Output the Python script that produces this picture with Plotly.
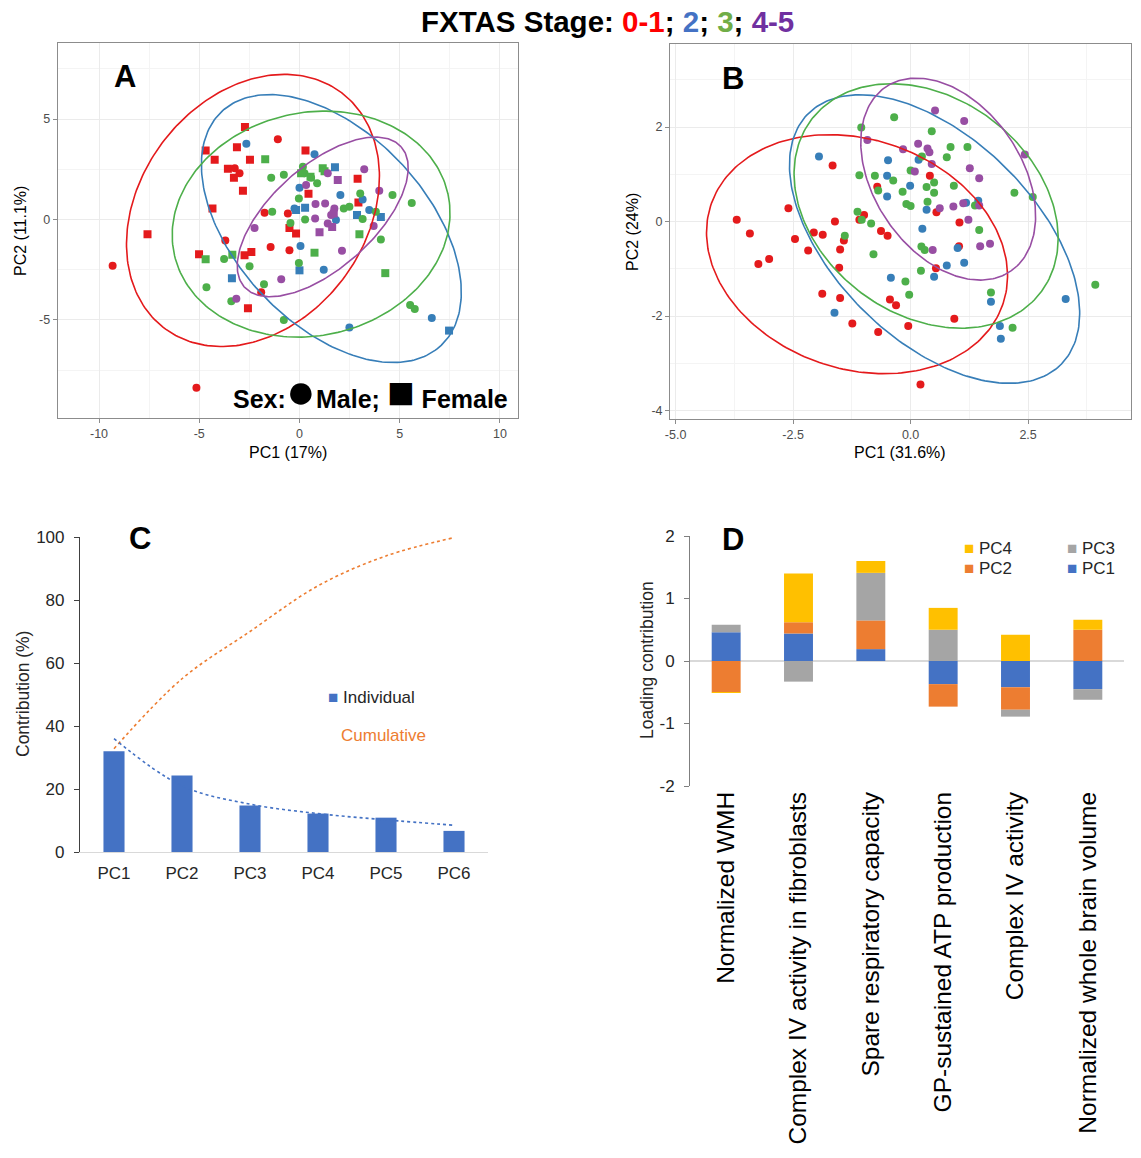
import numpy as np
import plotly.graph_objects as go

W, H = 1141, 1158
FONT = "Liberation Sans, Arial, sans-serif"


def fx(p):
    return p / W


def fy(p):
    return 1 - p / H


# ---------------- Panel A data (PC1 17%, PC2 11.1%) ----------------
A_s01_x = [-9.32, -5.14, -1.08, -3.23, -2.99, -1.74, -0.58, -3.70, -1.44, -0.50, -1.91,
           -7.58, -5.01, -4.68, -4.23, -4.34, -3.12, -2.72, -2.47, -3.57, -3.27, -2.82,
           -2.74, -2.40, -2.57, 0.30, 0.45, -0.50, -0.17, 2.90, 2.94]
A_s01_y = [-2.30, -8.37, 4.00, 2.55, 2.30, 0.33, 0.30, -1.05, -1.37, -1.53, -3.62,
           -0.73, -1.73, 3.43, 2.97, 0.55, 3.60, 4.60, 2.97, 2.52, 2.08, 1.43,
           -1.78, -1.62, -4.42, 3.43, 1.28, -0.42, -0.70, 2.03, 0.85]
A_s01_sex = ["M"] * 11 + ["F"] * 20

A_s2_x = [-2.65, 0.75, 0.00, 2.04, -0.25, 3.48, 0.05, 1.21, 2.49, 6.60, 1.82, 3.15,
          1.77, 0.28, -0.17, 2.87, 4.06, -3.37, 0.00, 7.46]
A_s2_y = [3.77, 3.25, 1.58, 1.22, 0.55, 0.47, -1.32, -2.50, -5.37, -4.90, -0.03, 1.00,
          2.60, 0.58, 0.47, 0.22, 0.13, -2.92, -2.53, -5.53]
A_s2_sex = ["M"] * 12 + ["F"] * 8

A_s3_x = [-1.41, -0.78, 0.17, 0.25, 0.58, 0.88, -0.03, -1.36, 0.28, 3.03, 2.21, 2.49,
          3.15, 4.64, 5.60, 4.06, 3.81, -0.45, -3.76, -2.49, -4.64, -3.40, -1.77, -0.03,
          -0.78, 5.52, 5.75,
          -1.71, 1.16, 1.25, 0.55, 0.08, 2.99, 0.75, 4.28, -4.68, -3.35]
A_s3_y = [2.08, 2.23, 2.63, 2.30, 2.08, 1.80, 1.05, 0.38, 0.00, 1.30, 0.55, 0.63,
          0.02, 1.22, 0.82, -1.00, 0.38, -0.17, -1.97, -2.33, -3.37, -4.07, -3.22, -2.17,
          -5.00, -4.25, -4.45,
          3.00, 2.55, 2.40, 2.13, 2.30, -0.73, -1.65, -2.67, -1.98, -1.75]
A_s3_sex = ["M"] * 27 + ["F"] * 10

A_s45_x = [3.23, 0.33, 3.98, 0.80, 1.28, 1.74, 1.58, 0.78, 1.41, 3.70, -2.24, 2.12,
           -0.91, -3.15, 1.41, 1.91, 1.71, 1.00, 1.63]
A_s45_y = [2.50, 1.72, 1.43, 0.77, 0.80, 0.55, 0.22, 0.05, -0.20, -0.32, -0.42, -1.55,
           -2.97, -3.95, 2.30, 1.97, 0.30, -0.63, -0.37]
A_s45_sex = ["M"] * 15 + ["F"] * 4

# ellipse parameters: centre x, centre y, semi-axis a, semi-axis b, angle (deg)
A_ell_cx = [-2.32, 1.59, 0.58, 1.16]
A_ell_cy = [0.45, -0.45, -0.23, 0.13]
A_ell_a = [7.34, 7.99, 6.99, 5.24]
A_ell_b = [5.64, 4.76, 5.55, 2.55]
A_ell_ang = [53.0, -46.7, 12.5, 41.7]

A_xticks = [-10, -5, 0, 5, 10]
A_xticklabels = ["-10", "-5", "0", "5", "10"]
A_yticks = [-5, 0, 5]
A_yticklabels = ["-5", "0", "5"]

# ---------------- Panel B data (PC1 31.6%, PC2 24%) ----------------
B_s01_x = [-3.70, -3.42, -3.24, -3.01, -2.60, -2.46, -2.18, -2.06, -1.87, -1.66, -1.61,
           -1.42, -1.50, -1.52, -1.88, -1.50, -1.24, -0.69, -1.09, -0.99, -0.71, -0.63,
           -0.49, -0.44, -0.31, -0.05, 0.21, 0.41, 0.55, 0.54, 1.04, 1.03, 0.93]
B_s01_y = [0.04, -0.25, -0.90, -0.79, 0.28, -0.37, -0.61, -0.23, -0.28, 1.19, 0.00,
           -0.40, -0.59, -0.98, -1.53, -1.62, -2.16, -2.34, 0.04, 0.14, 0.74, -0.20,
           -0.30, -1.65, -1.77, -2.21, -3.45, 0.97, 0.20, -0.99, -0.02, -0.52, -2.06]

B_s2_x = [-1.95, -1.62, -0.48, -0.50, -0.50, -0.42, -0.01, 0.17, 0.34, 0.25, 0.50,
          0.77, 1.00, 1.14, 1.18, 1.44, 1.71, 1.90, 1.92, 3.30]
B_s2_y = [1.38, -1.93, 1.30, 0.97, 0.53, -1.19, 0.76, 1.31, 0.25, -0.15, -1.17,
          -0.93, -0.56, -0.87, 0.40, 0.44, -1.70, -2.21, -2.48, -1.64]

B_s3_x = [-0.35, -1.05, -1.09, -0.76, -0.37, -0.69, -1.13, -1.04, -0.84, -1.40, -0.79,
          -0.17, -0.09, 0.00, 0.00, 0.24, 0.45, 0.34, 0.36, 0.50, 0.50, 0.77, 0.85,
          0.92, 1.21, 1.37, 1.46, 0.23, 0.30, 0.22, -0.11, -0.03, 1.71, 2.21, 2.60,
          2.17, 3.93]
B_s3_y = [2.21, 1.99, 0.98, 0.97, 0.87, 0.66, 0.21, 0.04, -0.04, -0.30, -0.69,
          0.63, 0.37, 0.33, 1.08, 1.38, 1.91, 0.73, 0.42, 0.83, 0.61, 1.36, 1.58,
          0.76, 1.58, 0.34, -0.18, -0.53, -0.60, -1.04, -1.27, -1.55, -1.50, 0.61, 0.52,
          -2.25, -1.34]

B_s45_x = [0.52, 1.14, -0.92, -0.16, 0.16, 0.36, 0.40, 0.45, 0.09, 1.26, 1.46, 2.43,
           0.62, 0.91, 1.12, 1.46, 1.23, 0.47, 1.48, 1.69]
B_s45_y = [2.35, 2.13, 1.73, 1.53, 1.65, 1.55, 1.47, 1.22, 1.06, 1.13, 0.92, 1.42,
           0.28, 0.32, 0.39, 0.34, 0.04, -0.60, -0.52, -0.47]

B_ell_cx = [-1.14, 0.51, 0.33, 0.80]
B_ell_cy = [-0.69, -0.37, 0.33, 0.90]
B_ell_a = [3.28, 3.78, 3.05, 2.36]
B_ell_b = [2.43, 2.14, 2.30, 1.57]
B_ell_ang = [-18.7, -44.4, -36.3, -55.5]

B_xticks = [-5.0, -2.5, 0.0, 2.5]
B_xticklabels = ["-5.0", "-2.5", "0.0", "2.5"]
B_yticks = [-4, -2, 0, 2]
B_yticklabels = ["-4", "-2", "0", "2"]

# ---------------- Panel C data ----------------
C_components = ["PC1", "PC2", "PC3", "PC4", "PC5", "PC6"]
C_individual = [32.0, 24.3, 14.8, 12.2, 10.9, 6.7]
C_individual_trend = [36.0, 21.0, 15.2, 12.2, 10.2, 8.5]
C_cumulative_trend = [32.8, 55.0, 70.0, 84.5, 94.0, 99.8]

# ---------------- Panel D data ----------------
D_variables = ["Normalized WMH", "Complex IV activity in fibroblasts",
               "Spare respiratory capacity", "GP-sustained ATP production",
               "Complex IV activity", "Normalized whole brain volume"]
D_PC1 = [0.46, 0.44, 0.19, -0.37, -0.42, -0.45]
D_PC2 = [-0.50, 0.18, 0.46, -0.36, -0.36, 0.50]
D_PC3 = [0.12, -0.33, 0.76, 0.50, -0.11, -0.17]
D_PC4 = [-0.01, 0.78, 0.19, 0.35, 0.42, 0.16]
D_yticks = [-2, -1, 0, 1, 2]
D_yticklabels = ["-2", "-1", "0", "1", "2"]

STAGE_COLORS = ["#E41A1C", "#377EB8", "#4DAF4A", "#984EA3"]
STAGE_NAMES = ["0-1", "2", "3", "4-5"]


def ellipse_xy(cx, cy, a, b, ang, n=240):
    t = np.linspace(0, 2 * np.pi, n)
    th = np.radians(ang)
    x = cx + a * np.cos(t) * np.cos(th) - b * np.sin(t) * np.sin(th)
    y = cy + a * np.cos(t) * np.sin(th) + b * np.sin(t) * np.cos(th)
    return x, y


fig = go.Figure()

# ---- Panel A ----
A_groups = [(A_s01_x, A_s01_y, A_s01_sex), (A_s2_x, A_s2_y, A_s2_sex),
            (A_s3_x, A_s3_y, A_s3_sex), (A_s45_x, A_s45_y, A_s45_sex)]
for i, (xs, ys, sx) in enumerate(A_groups):
    fig.add_trace(go.Scatter(
        x=xs, y=ys, mode="markers", xaxis="x", yaxis="y", showlegend=False,
        name=STAGE_NAMES[i],
        marker=dict(color=STAGE_COLORS[i], size=8,
                    symbol=["circle" if s == "M" else "square" for s in sx],
                    line=dict(width=0))))
for i in range(4):
    ex, ey = ellipse_xy(A_ell_cx[i], A_ell_cy[i], A_ell_a[i], A_ell_b[i], A_ell_ang[i])
    fig.add_trace(go.Scatter(x=ex, y=ey, mode="lines", xaxis="x", yaxis="y",
                             showlegend=False, hoverinfo="skip",
                             line=dict(color=STAGE_COLORS[i], width=1.6)))

# ---- Panel B ----
B_groups = [(B_s01_x, B_s01_y), (B_s2_x, B_s2_y), (B_s3_x, B_s3_y), (B_s45_x, B_s45_y)]
for i, (xs, ys) in enumerate(B_groups):
    fig.add_trace(go.Scatter(
        x=xs, y=ys, mode="markers", xaxis="x2", yaxis="y2", showlegend=False,
        name=STAGE_NAMES[i],
        marker=dict(color=STAGE_COLORS[i], size=8, symbol="circle", line=dict(width=0))))
for i in range(4):
    ex, ey = ellipse_xy(B_ell_cx[i], B_ell_cy[i], B_ell_a[i], B_ell_b[i], B_ell_ang[i])
    fig.add_trace(go.Scatter(x=ex, y=ey, mode="lines", xaxis="x2", yaxis="y2",
                             showlegend=False, hoverinfo="skip",
                             line=dict(color=STAGE_COLORS[i], width=1.6)))

# ---- Panel C ----
fig.add_trace(go.Bar(x=C_components, y=C_individual, xaxis="x3", yaxis="y3",
                     width=0.31, marker=dict(color="#4472C4", line=dict(width=0)),
                     showlegend=False, name="Individual"))
fig.add_trace(go.Scatter(x=C_components, y=C_cumulative_trend, xaxis="x3", yaxis="y3",
                         mode="lines", line=dict(color="#ED7D31", width=1.6, dash="dot",
                                                 shape="spline"),
                         showlegend=False, name="Cumulative"))
fig.add_trace(go.Scatter(x=C_components, y=C_individual_trend, xaxis="x3", yaxis="y3",
                         mode="lines", line=dict(color="#4472C4", width=1.6, dash="dot",
                                                 shape="spline"),
                         showlegend=False, name="Individual trend"))

# ---- Panel D ----
D_series = [("PC1", D_PC1, "#4472C4"), ("PC2", D_PC2, "#ED7D31"),
            ("PC3", D_PC3, "#A5A5A5"), ("PC4", D_PC4, "#FFC000")]
for name, vals, col in D_series:
    fig.add_trace(go.Bar(x=D_variables, y=vals, xaxis="x4", yaxis="y4", width=0.4,
                         name=name, marker=dict(color=col, line=dict(width=0)),
                         showlegend=False))

tick_font_ab = dict(family=FONT, size=12.5, color="#4D4D4D")
frame = dict(showline=True, mirror=True, linecolor="#8C8C8C", linewidth=1,
             ticks="outside", ticklen=4, tickcolor="#8C8C8C", zeroline=False,
             showgrid=True, gridcolor="#EBEBEB", gridwidth=1, automargin=False,
             tickfont=tick_font_ab, tickmode="array")

fig.update_layout(
    template="none",
    width=W, height=H, margin=dict(l=0, r=0, t=0, b=0, pad=0),
    paper_bgcolor="white", plot_bgcolor="white",
    barmode="relative", showlegend=False,
    font=dict(family=FONT, color="black"),
    xaxis=dict(domain=[fx(57.7), fx(518)], range=[-12.06, 10.9], anchor="y",
               tickvals=A_xticks, ticktext=A_xticklabels,
               minor=dict(tickmode="linear", tick0=0, dtick=2.5, showgrid=True,
                          gridcolor="#F4F4F4", ticks=""),
               **frame),
    yaxis=dict(domain=[fy(418), fy(43.3)], range=[-9.88, 8.77], anchor="x",
               tickvals=A_yticks, ticktext=A_yticklabels,
               minor=dict(tickmode="linear", tick0=0, dtick=2.5, showgrid=True,
                          gridcolor="#F4F4F4", ticks=""),
               **frame),
    xaxis2=dict(domain=[fx(670), fx(1131)], range=[-5.12, 4.69], anchor="y2",
                tickvals=B_xticks, ticktext=B_xticklabels,
                minor=dict(tickmode="linear", tick0=0, dtick=1.25, showgrid=True,
                           gridcolor="#F4F4F4", ticks=""),
                **frame),
    yaxis2=dict(domain=[fy(419), fy(44)], range=[-4.18, 3.76], anchor="x2",
                tickvals=B_yticks, ticktext=B_yticklabels,
                minor=dict(tickmode="linear", tick0=0, dtick=1, showgrid=True,
                           gridcolor="#F4F4F4", ticks=""),
                **frame),
    xaxis3=dict(domain=[fx(80), fx(488)], anchor="y3", type="category",
                range=[-0.5, 5.5], showline=True, linecolor="#D9D9D9", linewidth=1,
                ticks="", showgrid=False, zeroline=False, automargin=False,
                tickfont=dict(family=FONT, size=17, color="#262626"),
                ticklabelstandoff=6),
    yaxis3=dict(domain=[fy(852), fy(537)], anchor="x3", range=[0, 100], dtick=20,
                showline=True, linecolor="#404040", linewidth=1.2,
                ticks="outside", ticklen=5, tickcolor="#404040",
                showgrid=False, zeroline=False, automargin=False,
                tickfont=dict(family=FONT, size=17, color="#262626"),
                ticklabelstandoff=6),
    xaxis4=dict(domain=[fx(690), fx(1124)], anchor="y4", type="category",
                range=[-0.5, 5.5], showline=False, ticks="", showgrid=False,
                zeroline=False, tickangle=-90, automargin=False,
                tickfont=dict(family=FONT, size=24.5, color="black")),
    yaxis4=dict(domain=[fy(786), fy(536)], anchor="x4", range=[-2, 2],
                tickmode="array", tickvals=D_yticks, ticktext=D_yticklabels,
                showline=True, linecolor="#7F7F7F", linewidth=1,
                ticks="outside", ticklen=5, tickcolor="#7F7F7F",
                showgrid=False, zeroline=True, zerolinecolor="#D9D9D9",
                zerolinewidth=1.5, automargin=False,
                tickfont=dict(family=FONT, size=17, color="#262626"),
                ticklabelstandoff=6),
)

ann = []
# main title
ann.append(dict(
    x=fx(607), y=fy(22), xref="paper", yref="paper", showarrow=False,
    xanchor="center", yanchor="middle",
    text=('<b>FXTAS Stage: <span style="color:#FF0000">0-1</span>; '
          '<span style="color:#4472C4">2</span>; '
          '<span style="color:#70AD47">3</span>; '
          '<span style="color:#7030A0">4-5</span></b>'),
    font=dict(family=FONT, size=29.5, color="black")))
# panel letters
for letter, px, py in [("A", 125, 77), ("B", 733, 78), ("C", 140, 538), ("D", 733, 539)]:
    ann.append(dict(x=fx(px), y=fy(py), xref="paper", yref="paper", showarrow=False,
                    xanchor="center", yanchor="middle", text="<b>%s</b>" % letter,
                    font=dict(family=FONT, size=31, color="black")))
# sex legend in A
ann.append(dict(x=fx(510), y=fy(391), xref="paper", yref="paper", showarrow=False,
                xanchor="right", yanchor="middle",
                text=('<b>Sex:<span style="font-size:50px">●</span>Male; '
                      '<span style="font-size:46px">■</span> Female</b>'),
                font=dict(family=FONT, size=25, color="black")))
# axis titles A/B
for txt, px, py, ang in [("PC1 (17%)", 288, 452, 0), ("PC2 (11.1%)", 20, 231, -90),
                         ("PC1 (31.6%)", 900, 452, 0), ("PC2 (24%)", 633, 232, -90)]:
    ann.append(dict(x=fx(px), y=fy(py), xref="paper", yref="paper", showarrow=False,
                    xanchor="center", yanchor="middle", text=txt, textangle=ang,
                    font=dict(family=FONT, size=16, color="black")))
# axis titles C/D
ann.append(dict(x=fx(23), y=fy(694), xref="paper", yref="paper", showarrow=False,
                xanchor="center", yanchor="middle", text="Contribution (%)",
                textangle=-90, font=dict(family=FONT, size=17.5, color="#262626")))
ann.append(dict(x=fx(647), y=fy(660), xref="paper", yref="paper", showarrow=False,
                xanchor="center", yanchor="middle", text="Loading contribution",
                textangle=-90, font=dict(family=FONT, size=17.5, color="#262626")))
# legend C
ann.append(dict(x=fx(326), y=fy(697), xref="paper", yref="paper", showarrow=False,
                xanchor="left", yanchor="middle",
                text='<span style="color:#4472C4">■</span> Individual',
                font=dict(family=FONT, size=17, color="#262626")))
ann.append(dict(x=fx(339), y=fy(735), xref="paper", yref="paper", showarrow=False,
                xanchor="left", yanchor="middle", text="Cumulative",
                font=dict(family=FONT, size=17, color="#ED7D31")))
# legend D
for name, col, px, py in [("PC4", "#FFC000", 962, 548), ("PC3", "#A5A5A5", 1065, 548),
                          ("PC2", "#ED7D31", 962, 568), ("PC1", "#4472C4", 1065, 568)]:
    ann.append(dict(x=fx(px), y=fy(py), xref="paper", yref="paper", showarrow=False,
                    xanchor="left", yanchor="middle",
                    text='<span style="color:%s">■</span> %s' % (col, name),
                    font=dict(family=FONT, size=17, color="#262626")))

fig.update_layout(annotations=ann)
# remove the default 8px page margin so the figure fills the window exactly
fig.write_html("out.html",
               config={"displayModeBar": False},
               post_script="document.body.style.margin='0px';"
                           "document.body.style.overflow='hidden';")
